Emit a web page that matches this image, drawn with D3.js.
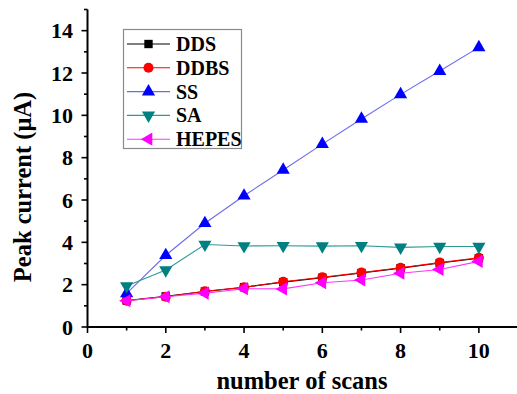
<!DOCTYPE html>
<html>
<head>
<meta charset="utf-8">
<script src="https://cdn.jsdelivr.net/npm/d3@7"></script>
<style>
  html, body { margin: 0; padding: 0; background: #fff; }
  svg { display: block; }
</style>
</head>
<body>
<script>
// Peak current vs. number of scans for five buffer systems
const scans = [1, 2, 3, 4, 5, 6, 7, 8, 9, 10];
const seriesNames = ["DDS", "DDBS", "SS", "SA", "HEPES"];
const ddsValues   = [1.25, 1.45, 1.68, 1.88, 2.12, 2.33, 2.55, 2.78, 3.02, 3.25];
const ddbsValues  = [1.24, 1.43, 1.69, 1.87, 2.14, 2.35, 2.57, 2.80, 3.04, 3.27];
const ssValues    = [1.59, 3.39, 4.90, 6.20, 7.42, 8.64, 9.83, 10.99, 12.09, 13.21];
const saValues    = [1.94, 2.69, 3.90, 3.83, 3.84, 3.82, 3.84, 3.76, 3.80, 3.80];
const hepesValues = [1.24, 1.43, 1.60, 1.81, 1.80, 2.09, 2.22, 2.54, 2.72, 3.10];
const xTicks = [0, 2, 4, 6, 8, 10];
const yTicks = [0, 2, 4, 6, 8, 10, 12, 14];
const xTitle = "number of scans";
const yTitle = "Peak current (\u03bcA)";

const W = 517, H = 394;
const FONT = "'Liberation Serif', 'Times New Roman', Times, serif";
const svg = d3.select("body").append("svg").attr("width", W).attr("height", H)
  .attr("font-family", FONT).attr("font-weight", "bold");

const x = d3.scaleLinear().domain([0, 11]).range([87.5, 518]);
const y = d3.scaleLinear().domain([0, 15]).range([327, 9.5]);

const styles = {
  DDS:   { line: "#000000", fill: "#000000", sym: d3.symbolSquare,   size: 70,  rot: 0 },
  DDBS:  { line: "#ff0000", fill: "#ff0000", sym: d3.symbolCircle,   size: 80,  rot: 0 },
  SS:    { line: "#6b6bf0", fill: "#0000ff", sym: d3.symbolTriangle, size: 75,  rot: 0 },
  SA:    { line: "#2e9a94", fill: "#008080", sym: d3.symbolTriangle, size: 75,  rot: 180 },
  HEPES: { line: "#ff33ff", fill: "#ff00ff", sym: d3.symbolTriangle, size: 75,  rot: -90 }
};
const valuesBy = { DDS: ddsValues, DDBS: ddbsValues, SS: ssValues, SA: saValues, HEPES: hepesValues };

// Axes
const axisG = svg.append("g");
axisG.append("line").attr("x1", x(0)).attr("x2", x(11)).attr("y1", y(0)).attr("y2", y(0))
  .attr("stroke", "#000").attr("stroke-width", 2);
axisG.append("line").attr("x1", x(0)).attr("x2", x(0)).attr("y1", y(0)).attr("y2", y(15))
  .attr("stroke", "#000").attr("stroke-width", 2);

const xMinor = d3.range(1, 11, 2);
const yMinor = d3.range(1, 16, 2);
xTicks.concat(xMinor).forEach(v => {
  const major = xTicks.includes(v);
  axisG.append("line").attr("x1", x(v)).attr("x2", x(v))
    .attr("y1", y(0)).attr("y2", y(0) + (major ? 6 : 3.5))
    .attr("stroke", "#000").attr("stroke-width", 1.6);
});
yTicks.concat(yMinor).forEach(v => {
  const major = yTicks.includes(v);
  axisG.append("line").attr("x1", x(0)).attr("x2", x(0) - (major ? 6 : 3.5))
    .attr("y1", y(v)).attr("y2", y(v))
    .attr("stroke", "#000").attr("stroke-width", 1.6);
});
xTicks.forEach(v => {
  axisG.append("text").attr("x", x(v)).attr("y", 358).attr("text-anchor", "middle")
    .attr("font-size", 22).text(v);
});
yTicks.forEach(v => {
  axisG.append("text").attr("x", 73).attr("y", y(v)).attr("dy", "0.35em")
    .attr("text-anchor", "end").attr("font-size", 22).text(v);
});

svg.append("text").attr("x", 302).attr("y", 389).attr("text-anchor", "middle")
  .attr("font-size", 24.5).text(xTitle);
svg.append("text").attr("transform", "translate(31,187) rotate(-90)")
  .attr("text-anchor", "middle").attr("font-size", 24.5).text(yTitle);

// Series
const line = d3.line().x(d => x(d[0])).y(d => y(d[1]));
seriesNames.forEach(name => {
  const st = styles[name];
  const pts = scans.map((s, i) => [s, valuesBy[name][i]]);
  const g = svg.append("g");
  g.append("path").datum(pts).attr("d", line).attr("fill", "none")
    .attr("stroke", st.line).attr("stroke-width", 1.1);
  g.selectAll("path.m").data(pts).join("path").attr("class", "m")
    .attr("d", d3.symbol().type(st.sym).size(st.size))
    .attr("transform", d => `translate(${x(d[0])},${y(d[1])}) rotate(${st.rot})`)
    .attr("fill", st.fill);
});

// Legend
const lg = svg.append("g");
lg.append("rect").attr("x", 123.5).attr("y", 29.5).attr("width", 118).attr("height", 119)
  .attr("fill", "#fff").attr("stroke", "#8a8a8a").attr("stroke-width", 1.2);
seriesNames.forEach((name, i) => {
  const st = styles[name];
  const cy = 44 + i * 23.8;
  lg.append("line").attr("x1", 127).attr("x2", 170).attr("y1", cy).attr("y2", cy)
    .attr("stroke", st.line).attr("stroke-width", 1.1);
  lg.append("path").attr("d", d3.symbol().type(st.sym).size(st.size))
    .attr("transform", `translate(148.5,${cy}) rotate(${st.rot})`).attr("fill", st.fill);
  lg.append("text").attr("x", 176).attr("y", cy).attr("dy", "0.35em")
    .attr("font-size", 20).text(name);
});
</script>
</body>
</html>
